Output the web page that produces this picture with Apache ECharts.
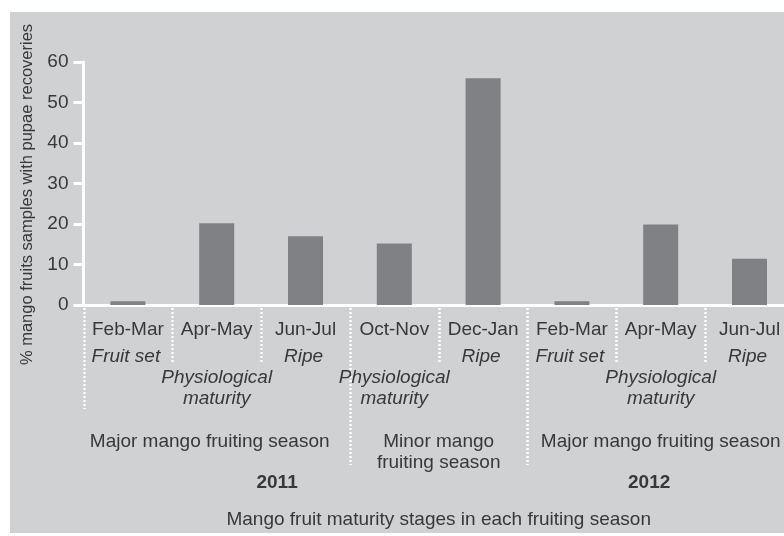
<!DOCTYPE html>
<html><head><meta charset="utf-8">
<script src="https://cdn.jsdelivr.net/npm/echarts@6/dist/echarts.min.js"></script>
<style>html,body{margin:0;padding:0;background:#fff}#c{width:784px;height:536px}</style>
</head><body><div id="c"></div>
<script>
// ---- data ----
const categories = ['Feb-Mar','Apr-May','Jun-Jul','Oct-Nov','Dec-Jan','Feb-Mar','Apr-May','Jun-Jul'];
const values = [0.9, 20.2, 17.0, 15.2, 56.0, 0.9, 19.9, 11.4];
const stageLabels = ['Fruit set','','Ripe','','Ripe','Fruit set','','Ripe'];
const maturityLabels = ['','Physiological\nmaturity','','Physiological\nmaturity','','','Physiological\nmaturity',''];
const seasonNames = ['Major mango fruiting season','Minor mango\nfruiting season','Major mango fruiting season'];
const seasonSpans = [[0,2],[3,4],[5,7]];
const yearNames = ['2011','2012'];
const yTicks = [0,10,20,30,40,50,60];
const yTitle = '% mango fruits samples with pupae recoveries';
const xTitle = 'Mango fruit maturity stages in each fruiting season';

// ---- styles ----
const FONT = 'Liberation Sans, Arial, sans-serif';
const FS = 19;
const TXT = '#383838';
const BG = '#d0d1d3';
const BAR = '#808185';

const chart = echarts.init(document.getElementById('c'), null, {renderer:'canvas'});
const option = {
  animation: false,
  backgroundColor: '#ffffff',
  grid: { left: 83.5, top: 62, width: 710.4, height: 243, containLabel: false, outerBoundsMode: 'none' },
  xAxis: {
    type: 'category', data: categories,
    axisLine: { show: true, lineStyle: { color: '#ffffff', width: 3 } },
    axisTick: { show: false },
    axisLabel: { color: TXT, fontSize: FS, fontFamily: FONT, margin: 15, interval: 0 }
  },
  yAxis: {
    type: 'value', min: yTicks[0], max: yTicks[yTicks.length-1], interval: 10,
    splitLine: { show: false },
    axisLine: { show: true, lineStyle: { color: '#ffffff', width: 3 } },
    axisTick: { show: true, length: 10, lineStyle: { color: '#ffffff', width: 3 } },
    axisLabel: { color: TXT, fontSize: FS, fontFamily: FONT, margin: 15 }
  },
  series: [{
    type: 'bar', data: values, barWidth: 35,
    itemStyle: { color: BAR }
  }]
};
chart.setOption(option);

function px(i) {
  const c0 = chart.convertToPixel({xAxisIndex:0}, 0);
  const c1 = chart.convertToPixel({xAxisIndex:0}, 1);
  return c0 + (c1 - c0) * i;
}
const y0 = chart.convertToPixel({yAxisIndex:0}, 0);
function txt(x, y, s, extra) {
  return {
    type: 'text', x: x, y: y, z: 10, silent: true,
    style: Object.assign({ text: s, fill: TXT, font: FS + 'px ' + FONT, align: 'center', verticalAlign: 'middle', lineHeight: 21 }, extra || {})
  };
}
const g = [];
g.push({ type: 'rect', shape: { x: 10, y: 12, width: 774, height: 521 }, style: { fill: BG }, z: -100, silent: true });
// dotted separators
const sepLen = categories.map((c, i) => {
  if (i === 0) return 104;
  for (const s of seasonSpans) if (s[0] === i) return 160;
  return 58;
});
categories.forEach((c, i) => {
  const x = Math.round(px(i - 0.5)) + 0.5;
  g.push({ type: 'line', z: 5, silent: true, shape: { x1: x, y1: y0 + 3, x2: x, y2: y0 + sepLen[i] },
    style: { stroke: '#ffffff', lineWidth: 2.5, lineDash: [2, 2] } });
});
stageLabels.forEach((s, i) => { if (s) g.push(txt(px(i) - 2, y0 + 52, s, { font: 'italic ' + FS + 'px ' + FONT })); });
maturityLabels.forEach((s, i) => { if (s) g.push(txt(px(i), y0 + 83, s, { font: 'italic ' + FS + 'px ' + FONT })); });
seasonNames.forEach((s, k) => {
  const sp = seasonSpans[k];
  g.push(txt(px((sp[0] + sp[1]) / 2) - (k === 0 ? 7 : 0), y0 + 126, s, { verticalAlign: 'top' }));
});
const yearAt = [1.68, 5.87];
yearNames.forEach((s, k) => g.push(txt(px(yearAt[k]), y0 + 178, s, { font: 'bold ' + FS + 'px ' + FONT })));
g.push(txt(px(3.5), y0 + 215, xTitle));
g.push(Object.assign(txt(0, 0, yTitle, { font: '16.5px ' + FONT }), { x: 27, y: 194.5, rotation: Math.PI / 2 }));
chart.setOption({ graphic: g });
</script>
</body></html>
